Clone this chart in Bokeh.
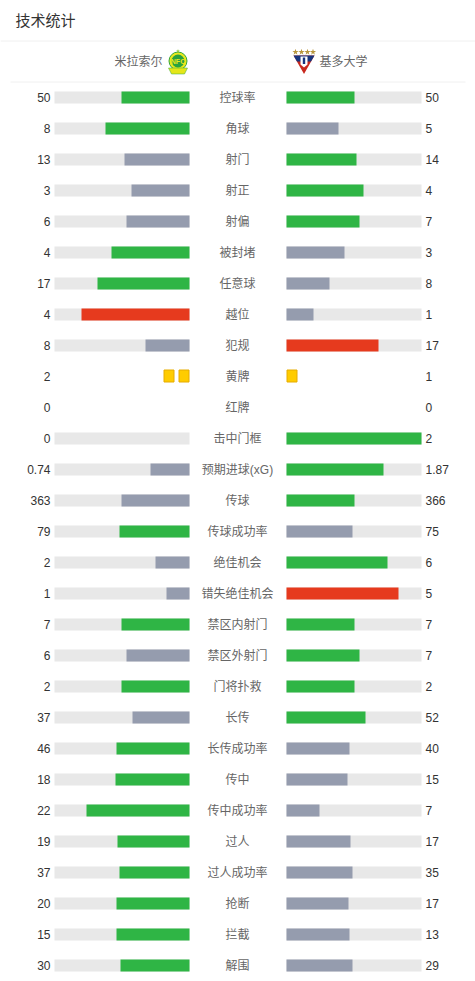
import math
from bokeh.plotting import figure
from bokeh.models import Range1d, ColumnDataSource
from bokeh.core.properties import value
from bokeh.embed import file_html
from bokeh.resources import INLINE

title = "技术统计"
home_team = "米拉索尔"
away_team = "基多大学"
categories = ["控球率", "角球", "射门", "射正", "射偏", "被封堵", "任意球", "越位", "犯规", "黄牌", "红牌",
              "击中门框", "预期进球(xG)", "传球", "传球成功率", "绝佳机会", "错失绝佳机会", "禁区内射门",
              "禁区外射门", "门将扑救", "长传", "长传成功率", "传中", "传中成功率", "过人", "过人成功率",
              "抢断", "拦截", "解围"]
home_values = [50, 8, 13, 3, 6, 4, 17, 4, 8, 2, 0, 0, 0.74, 363, 79, 2, 1, 7, 6, 2, 37, 46, 18, 22, 19, 37, 20, 15, 30]
away_values = [50, 5, 14, 4, 7, 3, 8, 1, 17, 1, 0, 2, 1.87, 366, 75, 6, 5, 7, 7, 2, 52, 40, 15, 7, 17, 35, 17, 13, 29]
negative_stats = ["越位", "犯规", "错失绝佳机会"]
card_stats = ["黄牌", "红牌"]

GREEN, GREY, RED, TRACK = "#2fb545", "#959cae", "#e63a1e", "#e8e8e8"
FONT = value("Liberation Sans, Noto Sans CJK SC")
ROW0, STEP, BAR_H = 97, 31, 12
L_END, R_START, BAR_W = 189, 286, 135

p = figure(width=475, height=981, x_range=Range1d(0, 475), y_range=Range1d(981, 0),
           output_backend="svg", toolbar_location=None, min_border=0,
           margin=(0, 0, 0, 0), outline_line_color=None, background_fill_color="white",
           border_fill_color="white")
p.axis.visible = False
p.grid.visible = False


def colour(cat, mine, other):
    if mine < other:
        return GREY
    return RED if cat in negative_stats else GREEN


rows = {k: [] for k in ("left", "right", "top", "bottom", "color")}
tracks = {k: [] for k in ("left", "right", "top", "bottom")}
cards = {k: [] for k in ("x", "y")}
for i, (cat, h, a) in enumerate(zip(categories, home_values, away_values)):
    y = ROW0 + i * STEP
    if cat in card_stats:
        for n in range(int(h)):
            cards["x"].append(L_END - 5.5 - n * 15)
            cards["y"].append(y - 0.5)
        for n in range(int(a)):
            cards["x"].append(R_START + 5.5 + n * 15)
            cards["y"].append(y - 0.5)
        continue
    share_h, share_a = h / (h + a), a / (h + a)
    for l, r in ((L_END - BAR_W, L_END), (R_START, R_START + BAR_W)):
        tracks["left"].append(l); tracks["right"].append(r)
        tracks["top"].append(y - BAR_H / 2); tracks["bottom"].append(y + BAR_H / 2)
    if h > 0:
        rows["left"].append(math.floor(L_END - share_h * BAR_W)); rows["right"].append(L_END)
        rows["top"].append(y - BAR_H / 2); rows["bottom"].append(y + BAR_H / 2)
        rows["color"].append(colour(cat, h, a))
    if a > 0:
        rows["left"].append(R_START); rows["right"].append(round(R_START + share_a * BAR_W))
        rows["top"].append(y - BAR_H / 2); rows["bottom"].append(y + BAR_H / 2)
        rows["color"].append(colour(cat, a, h))

p.quad(source=ColumnDataSource(tracks), left="left", right="right", top="top", bottom="bottom",
       fill_color=TRACK, line_color=None)
p.quad(source=ColumnDataSource(rows), left="left", right="right", top="top", bottom="bottom",
       fill_color="color", line_color=None)
p.rect(source=ColumnDataSource(cards), x="x", y="y", width=10, height=12, fill_color="#ffcc00",
       line_color="#e6ac00", line_width=1, line_join="round")

ys = [ROW0 + i * STEP for i in range(len(categories))]
p.text(x=[237] * len(ys), y=ys, text=categories, text_align="center", text_baseline="middle",
       text_font=FONT, text_font_size="12px", text_color="#666666")
p.text(x=[50] * len(ys), y=ys, text=[str(v) for v in home_values], text_align="right", text_baseline="middle",
       text_font=FONT, text_font_size="12px", text_color="#333333")
p.text(x=[425] * len(ys), y=ys, text=[str(v) for v in away_values], text_align="left", text_baseline="middle",
       text_font=FONT, text_font_size="12px", text_color="#333333")

p.text(x=[15], y=[20], text=[title], text_baseline="middle", text_font=FONT, text_font_size="15px",
       text_color="#333333")
p.text(x=[162], y=[61], text=[home_team], text_align="right", text_baseline="middle", text_font=FONT,
       text_font_size="12px", text_color="#666666")
p.text(x=[319], y=[61], text=[away_team], text_align="left", text_baseline="middle", text_font=FONT,
       text_font_size="12px", text_color="#666666")

p.segment(x0=[0, 10], x1=[475, 465], y0=[40.5, 81.5], y1=[40.5, 81.5], line_color="#f0f0f0", line_width=1)

# home crest
p.scatter(x=[177.5], y=[60.5], size=18, marker="circle", fill_color="#e9e81c", line_color="#35a83c", line_width=1)
p.scatter(x=[177.5], y=[60.5], size=13, marker="circle", fill_color="#2aa23f", line_color=None)
p.patch(x=[168, 187, 184, 171], y=[67.5, 67.5, 73.5, 73.5], fill_color="#e5e619", line_color="#35a83c", line_width=0.5)
p.scatter(x=[177.5], y=[50.5], size=4, marker="star", fill_color="#8fc83c", line_color=None)
p.text(x=[177.5], y=[61], text=["NFC"], text_align="center", text_baseline="middle", text_font=FONT,
       text_font_size="7px", text_font_style="bold", text_color="#e9e81c")

# away crest
p.patch(x=[293, 314, 303.5], y=[55, 55, 73.5], fill_color="#c8281e", line_color=None)
p.patch(x=[293, 314, 310.5, 296.5], y=[55, 55, 61, 61], fill_color="#16357f", line_color=None)
p.patch(x=[300, 307, 307, 303.5, 300], y=[56, 56, 64, 67, 64], fill_color="white", line_color=None)
p.patch(x=[302.3, 304.7, 304.7, 302.3], y=[57, 57, 63.5, 63.5], fill_color="#16357f", line_color=None)
p.scatter(x=[295, 301, 307, 312.5], y=[51.5] * 4, size=6.5, marker="star", fill_color="#b8963c", line_color=None)

open("out.html", "w").write(file_html(p, INLINE))
